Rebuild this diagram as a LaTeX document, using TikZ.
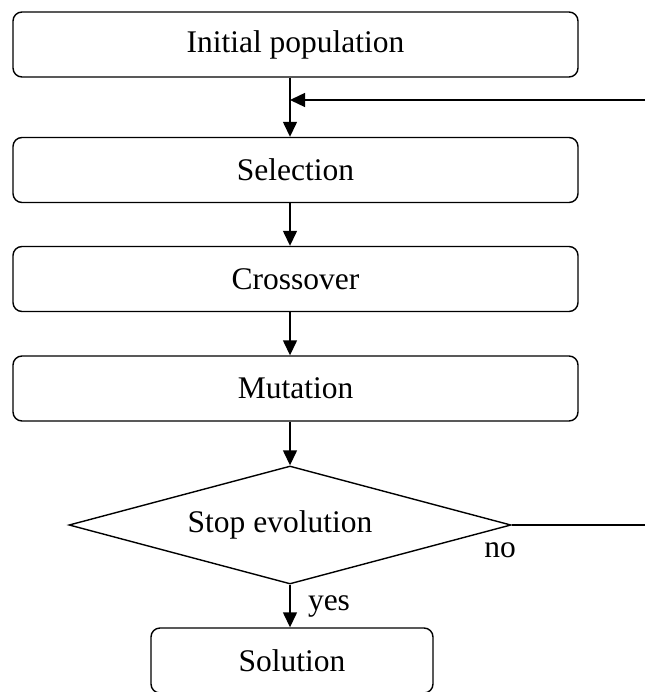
\documentclass[tikz,border=0pt]{standalone}
\usepackage{fontspec}
\setmainfont{Liberation Serif}
\usetikzlibrary{positioning}
\usetikzlibrary{shapes.geometric}
\usetikzlibrary{arrows.meta}

\begin{document}
\begin{tikzpicture}[x = 1pt, y = -1pt,
	every node/.style = {font = \fontsize{31.5}{36}\selectfont},
	stage/.style = {draw, line width = 1.4pt, rounded corners = 9pt, inner sep = 0pt, minimum width = 565pt, minimum height = 65pt},
	test/.style = {draw, line width = 1.4pt, diamond, aspect = 3.75, inner sep = 0pt, minimum width = 442pt, minimum height = 118pt},
	flow/.style = {line width = 1.4pt, -{Triangle[length = 15pt, width = 14pt]}}]
					\useasboundingbox (0, 0) rectangle (645, 692);
					\coordinate (axis) at (290, 0);
					\node [stage] (init) at (295.5, 44.5) {Initial population};
					\node [stage] (sel) at (295.5, 170) {Selection};
					\node [stage] (cross) at (295.5, 279) {Crossover};
					\node [stage] (mut) at (295.5, 388.5) {Mutation};
					\node [test] (stop) at (290, 525) {};
					\node [xshift = -10pt] (stoptext) at (stop.center) {Stop evolution};
					\node [stage, minimum width = 282pt] (sol) at (292, 660.5) {Solution};
					\node at (500, 550) (no) {no};
					\node at (329, 606) (yes) {yes};
					\coordinate (loopin) at (645, 100);
					\coordinate (join) at (290, 100);
					\coordinate (loopout) at (645, 525);
					\draw [line width = 1.4pt] (init.south -| axis) -- (join);
					\draw [flow] (join) -- (sel.north -| axis);
					\draw [flow] (loopin) -- (join);
					\draw [flow] (sel.south -| axis) -- (cross.north -| axis);
					\draw [flow] (cross.south -| axis) -- (mut.north -| axis);
					\draw [flow] (mut.south -| axis) -- (stop.north);
					\draw [flow] (stop.south) -- (sol.north -| stop.south);
					\draw [line width = 1.4pt] (stop.east) -- (loopout);
				\end{tikzpicture}
\end{document}
